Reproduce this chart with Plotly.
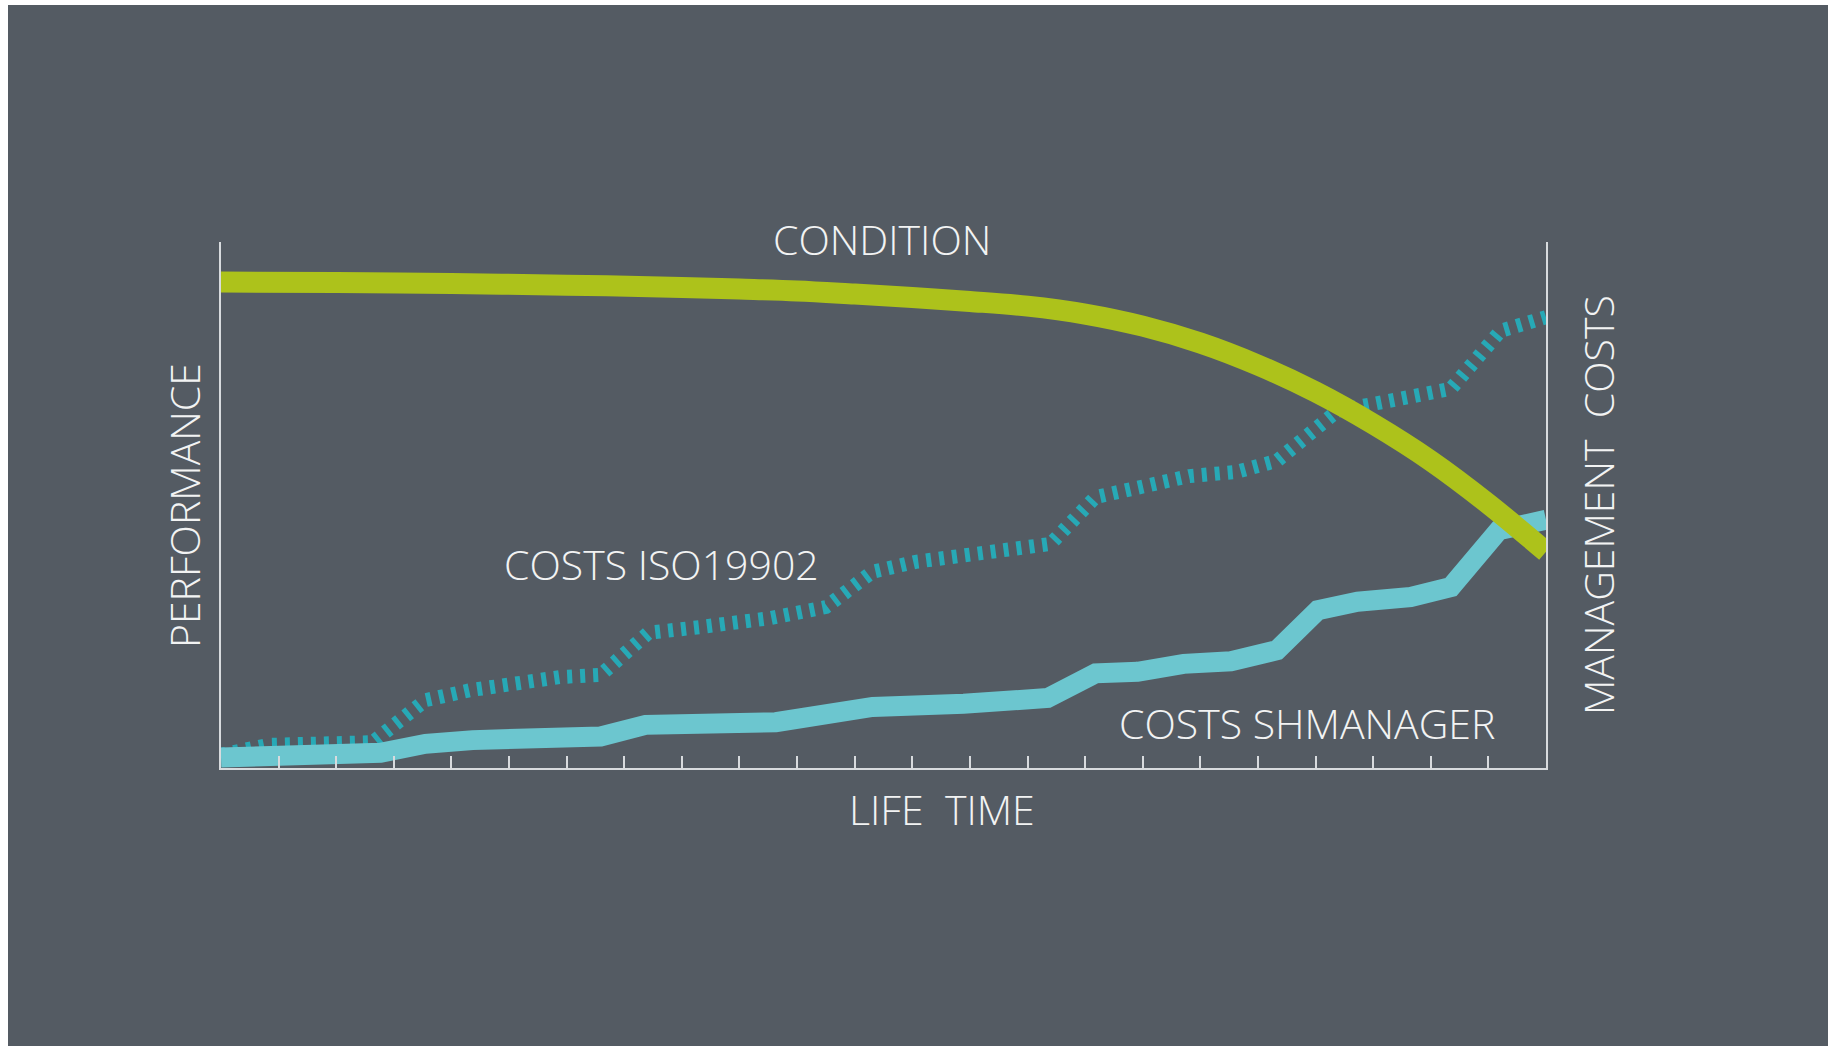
import plotly.graph_objects as go

# ---------------- data ----------------
life_time_ticks = list(range(1, 23))

condition_x = [0, 2, 4, 6, 8, 9, 10, 11, 12, 13, 14, 15, 16, 17, 18, 19, 20, 21, 22, 23]
condition_y = [92.4, 92.3, 92.1, 91.8, 91.35, 91.05, 90.7, 90.1, 89.45, 88.7, 87.8, 86.3, 84.0,
               80.8, 76.6, 71.5, 65.4, 58.4, 50.2, 41.1]

iso_x = [0, 0.82, 2.63, 3.55, 4.33, 5.89, 6.59, 7.42, 8.32, 9.54, 10.5, 11.31, 12.06, 13.58, 14.4,
         15.18, 16.0, 16.81, 17.63, 18.33, 19.38, 19.96, 21.35, 22.21, 23]
iso_y = [2.5, 4.4, 4.9, 12.9, 14.8, 17.3, 17.7, 25.7, 26.8, 28.5, 30.6, 37.3, 39.2, 41.8, 42.6,
         51.5, 53.4, 55.5, 56.3, 58.4, 67.9, 69.0, 72.1, 83.1, 85.7]

shm_x = [0, 0.77, 2.77, 3.55, 4.37, 6.59, 7.37, 9.63, 10.55, 11.31, 12.89, 13.58, 14.35, 15.18,
         15.91, 16.71, 17.53, 18.33, 19.04, 19.73, 20.65, 21.35, 22.18, 23]
shm_y = [2.0, 2.1, 2.9, 4.6, 5.3, 6.0, 8.2, 8.7, 9.9, 11.6, 12.2, 12.9, 13.3, 18.0,
         18.3, 19.8, 20.3, 22.4, 30.0, 31.6, 32.5, 34.4, 45.2, 47.2]

# ---------------- styles ----------------
BG = "#545b63"
AXIS = "#d8dbde"
TEXT = "#f2f3f3"
C_COND = "#adc21b"
C_SHM = "#6cc6cf"
C_ISO = "#27a9b6"
FONT = "Open Sans"

fig = go.Figure()

fig.add_trace(go.Scatter(x=iso_x, y=iso_y, mode="lines",
                         line=dict(color=C_ISO, width=14, dash="5px,8px"),
                         hoverinfo="skip", showlegend=False))
fig.add_trace(go.Scatter(x=shm_x, y=shm_y, mode="lines",
                         line=dict(color=C_SHM, width=20),
                         hoverinfo="skip", showlegend=False))
fig.add_trace(go.Scatter(x=condition_x, y=condition_y, mode="lines",
                         line=dict(color=C_COND, width=21, shape="spline", smoothing=1.0),
                         hoverinfo="skip", showlegend=False))

ann_font = dict(family=FONT, size=41, color=TEXT, weight=300)
annotations = [
    dict(text="CONDITION", x=0.4989, y=1.0057),
    dict(text="COSTS ISO19902", x=0.3325, y=0.3878),
    dict(text="COSTS SHMANAGER", x=0.8196, y=0.0856),
    dict(text="LIFE\u00a0\u00a0TIME", x=0.5442, y=-0.0779),
    dict(text="PERFORMANCE", x=-0.0279, y=0.4981, textangle=-90),
    dict(text="MANAGEMENT\u00a0\u00a0COSTS", x=1.0389, y=0.499, textangle=-90),
]
for a in annotations:
    a.update(xref="paper", yref="paper", xanchor="center", yanchor="middle",
             showarrow=False, font=ann_font)

# white strips along the top and left edge of the picture
shapes = [
    dict(type="rect", xref="paper", yref="paper", x0=-0.2, x1=1.3, y0=1.4506, y1=1.47,
         fillcolor="white", line=dict(width=0), layer="above"),
    dict(type="rect", xref="paper", yref="paper", x0=-0.2, x1=-0.16075, y0=-0.6, y1=1.47,
         fillcolor="white", line=dict(width=0), layer="above"),
]

fig.update_layout(
    width=1828, height=1046,
    margin=dict(l=221, r=282, t=242, b=278, pad=0),
    paper_bgcolor=BG, plot_bgcolor=BG,
    showlegend=False,
    annotations=annotations,
    shapes=shapes,
    xaxis=dict(range=[0, 23], showgrid=False, zeroline=False, showline=True,
               linecolor=AXIS, linewidth=2, mirror=False,
               tickmode="array", tickvals=life_time_ticks, ticks="inside",
               ticklen=12, tickwidth=2, tickcolor=AXIS, showticklabels=False),
    yaxis=dict(range=[0, 100], showgrid=False, zeroline=False, showline=True,
               linecolor=AXIS, linewidth=2, mirror=True, ticks="",
               showticklabels=False),
)

fig.write_html("out.html", config={"displayModeBar": False},
               post_script="document.body.style.margin='0';document.body.style.overflow='hidden';")
